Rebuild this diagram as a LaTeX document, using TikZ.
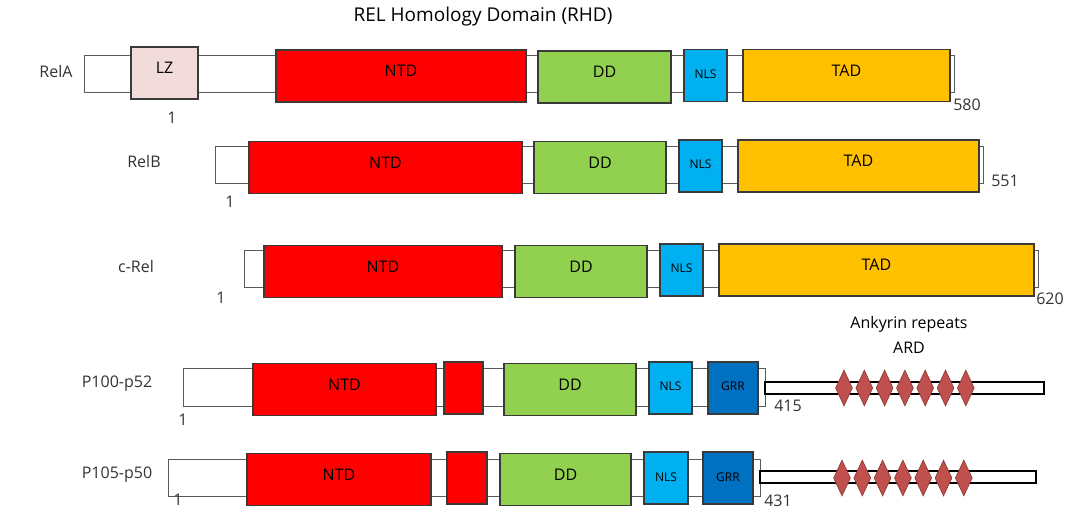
\documentclass[tikz,border=0pt]{standalone}
\usepackage{fontspec}
\setmainfont{Open Sans}
\usetikzlibrary{shapes.geometric}
\definecolor{domline}{HTML}{3A3A3A}
\definecolor{spinegrey}{HTML}{5A5A5A}
\definecolor{ntdred}{HTML}{FF0000}
\definecolor{ddgreen}{HTML}{92D050}
\definecolor{nlsblue}{HTML}{00B0F0}
\definecolor{grrblue}{HTML}{0070C0}
\definecolor{tadgold}{HTML}{FFC000}
\definecolor{lzpink}{HTML}{F2DCDB}
\definecolor{ankred}{HTML}{C0504D}
\definecolor{ankline}{HTML}{8B3533}
\definecolor{labgrey}{HTML}{333333}

\begin{document}
\begin{tikzpicture}[x=1pt, y=-1pt, font=\fontsize{16}{19}\selectfont,
  spine/.style={draw=spinegrey, line width=1pt, fill=white, inner sep=0pt,
                minimum height=37pt},
  dom/.style={draw=domline, line width=1.1pt, inner sep=0pt,
              minimum height=52pt, text height=12pt, text depth=10pt},
  smalldom/.style={dom, font=\fontsize{12}{14}\selectfont,
                   text height=9pt, text depth=3pt},
  ankbar/.style={draw=black, line width=2.4pt, fill=white, inner sep=0pt,
                 minimum height=12pt},
  ank/.style={diamond, draw=ankline, line width=0.6pt, fill=ankred,
              inner sep=0pt, minimum width=17pt, minimum height=36pt},
  protein/.style={text=labgrey},
  resnum/.style={text=labgrey, inner sep=1pt}]
  \useasboundingbox (0,0) rectangle (1068,510);

  \node (rhd) at (483,17) {\fontsize{19}{22}\selectfont REL Homology Domain (RHD)};

  \node[protein] (nameA) at (56,72) {RelA};
  \node[spine, minimum width=870pt] (relA) at (519,74) {};
  \node[dom, fill=lzpink, minimum width=67pt] (lzA) at (164.5,73) {LZ};
  \node[dom, fill=ntdred, minimum width=250pt] (ntdA) at (401,76) {NTD};
  \node[dom, fill=ddgreen, minimum width=133pt] (ddA) at (604.5,77) {DD};
  \node[smalldom, fill=nlsblue, minimum width=43pt] (nlsA) at (705.5,75.5) {NLS};
  \node[dom, fill=tadgold, minimum width=207pt] (tadA) at (846.5,75.5) {TAD};
  \node[resnum] (startA) at (172,118) {1};
  \node[resnum] (endA) at (967,105) {580};

  \node[protein] (nameB) at (144,162) {RelB};
  \node[spine, minimum width=768pt] (relB) at (599,165) {};
  \node[dom, fill=ntdred, minimum width=273pt] (ntdB) at (385.5,167.5) {NTD};
  \node[dom, fill=ddgreen, minimum width=132pt] (ddB) at (600,167.5) {DD};
  \node[smalldom, fill=nlsblue, minimum width=43pt] (nlsB) at (700.5,166) {NLS};
  \node[dom, fill=tadgold, minimum width=241pt] (tadB) at (858.5,166) {TAD};
  \node[resnum] (startB) at (230,202) {1};
  \node[resnum] (endB) at (1005,181) {551};

  \node[protein] (nameC) at (136,267) {c-Rel};
  \node[spine, minimum width=794pt] (crel) at (641,269.5) {};
  \node[dom, fill=ntdred, minimum width=238pt] (ntdC) at (383,271.5) {NTD};
  \node[dom, fill=ddgreen, minimum width=132pt] (ddC) at (581,271.5) {DD};
  \node[smalldom, fill=nlsblue, minimum width=43pt] (nlsC) at (681.5,270) {NLS};
  \node[dom, fill=tadgold, minimum width=315pt] (tadC) at (876.5,270) {TAD};
  \node[resnum] (startC) at (221,298) {1};
  \node[resnum] (endC) at (1050,299) {620};

  \node (ankyrin) at (909,324) {Ankyrin repeats};
  \node (ard) at (909,348) {ARD};

  \node[protein] (nameD) at (117,384) {P100-p52};
  \node[spine, minimum width=582pt] (p100) at (474,387.5) {};
  \node[dom, fill=ntdred, minimum width=183pt] (ntdD) at (344.5,389.5) {NTD};
  \node[dom, fill=ntdred, minimum width=39pt] (insD) at (463.5,388) {};
  \node[dom, fill=ddgreen, minimum width=132pt] (ddD) at (570,389.5) {DD};
  \node[smalldom, fill=nlsblue, minimum width=43pt] (nlsD) at (670.5,388) {NLS};
  \node[smalldom, fill=grrblue, minimum width=50pt] (grrD) at (733,388) {GRR};
  \node[ankbar, minimum width=279pt] (ardD) at (904.5,388) {};
  \foreach \k in {0,...,6}
    \node[ank] (ankD\k) at ({844+20.3*\k},388) {};
  \node[resnum] (startD) at (183,420) {1};
  \node[resnum] (endD) at (788,406) {415};

  \node[protein] (nameE) at (117,475) {P105-p50};
  \node[spine, minimum width=592pt] (p105) at (464,477.5) {};
  \node[dom, fill=ntdred, minimum width=184pt] (ntdE) at (339,479.5) {NTD};
  \node[dom, fill=ntdred, minimum width=40pt] (insE) at (467,478) {};
  \node[dom, fill=ddgreen, minimum width=131pt] (ddE) at (565.5,479.5) {DD};
  \node[smalldom, fill=nlsblue, minimum width=44pt] (nlsE) at (666,478) {NLS};
  \node[smalldom, fill=grrblue, minimum width=50pt] (grrE) at (728,478) {GRR};
  \node[ankbar, minimum width=276pt] (ardE) at (898,477) {};
  \foreach \k in {0,...,6}
    \node[ank] (ankE\k) at ({842+20.3*\k},478) {};
  \node[resnum] (startE) at (178,500) {1};
  \node[resnum] (endE) at (778,501) {431};
\end{tikzpicture}
\end{document}
